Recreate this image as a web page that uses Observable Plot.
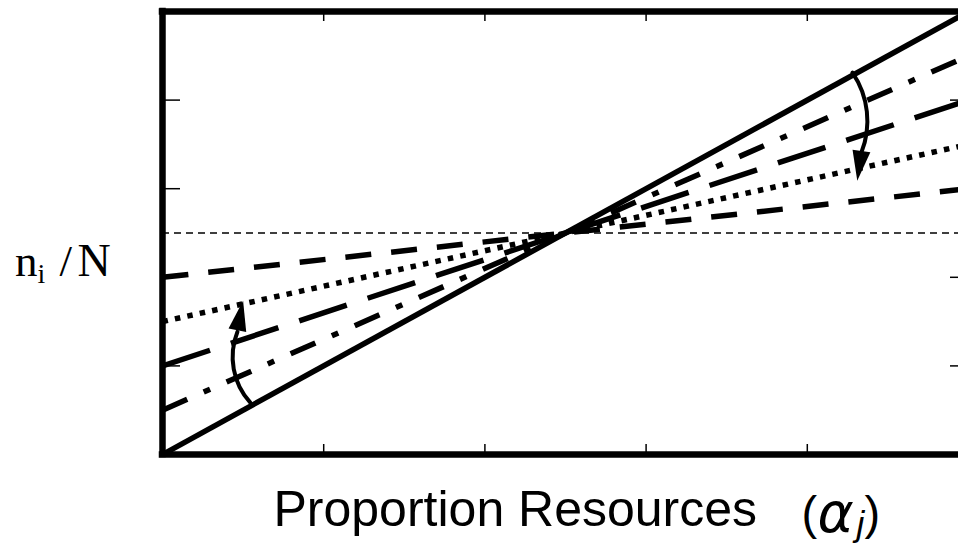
<!DOCTYPE html>
<html>
<head>
<meta charset="utf-8">
<script src="https://cdn.jsdelivr.net/npm/d3@7"></script>
<script src="https://cdn.jsdelivr.net/npm/@observablehq/plot@0.6"></script>
<style>
  html, body { margin: 0; padding: 0; background: #fff; overflow: hidden; }
  svg { overflow: hidden; }
</style>
</head>
<body>
<div id="chart"></div>
<script>
// ---- data ----
const alphaEnds = [0, 1];
const seriesNames = ["solid", "dash-dot", "long dash", "dotted", "dashed"];
const valuesAtZero = [0.0, 0.1, 0.2, 0.3, 0.4];
const valuesAtOne  = [1.0, 0.9, 0.8, 0.7, 0.6];
const xTicks = [0.2, 0.4, 0.6, 0.8];
const yTicks = [0.2, 0.4, 0.6, 0.8];
const evenLevel = [0.5];
const arrowNames  = ["upward", "downward"];
const arrowStartX = [0.109, 0.856];
const arrowStartY = [0.117, 0.862];
const arrowBaseX  = [0.093, 0.867];
const arrowBaseY  = [0.277, 0.681];
const arrowTipX   = [0.100, 0.862];
const arrowTipY   = [0.347, 0.618];
const xLabel = "Proportion Resources";
const yLabelParts = ["n", "i", "/", "N"];

// ---- styles ----
const W = 958, H = 546;
const mL = 162, mR = 0, mT = 11, mB = 92;
const frameW = W - mL - mR, frameH = H - mT - mB;
const unitW = 806;                  // pixels for one unit of x
const xMax = frameW / unitW;
const xTickLen = 10 / frameH;       // tick lengths expressed in data units
const yTickLen = 18 / unitW;

const lineStyles = {
  "solid":     {strokeDasharray: null},
  "dash-dot":  {strokeDasharray: "27,18,7,18"},
  "long dash": {strokeDasharray: "50,22"},
  "dotted":    {strokeDasharray: "5.5,7.2"},
  "dashed":    {strokeDasharray: "26,20"}
};
const arrowStyle = {
  "upward":   {bend: 32, rotate: 11},
  "downward": {bend: 28, rotate: 188}
};

const lineData = seriesNames.flatMap((name, i) =>
  alphaEnds.map((a, j) => ({series: name, alpha: a, share: j === 0 ? valuesAtZero[i] : valuesAtOne[i]}))
);
const arrows = arrowNames.map((name, i) => ({
  name, x1: arrowStartX[i], y1: arrowStartY[i], x2: arrowBaseX[i], y2: arrowBaseY[i],
  tx: arrowTipX[i], ty: arrowTipY[i]
}));

const headSymbol = {
  draw(context) {
    context.moveTo(0, 0);
    context.lineTo(9, 30);
    context.lineTo(-9, 30);
    context.closePath();
  }
};

const serif = "'Liberation Serif', 'Times New Roman', serif";
const sans = "'Liberation Sans', Arial, Helvetica, sans-serif";

const marks = [];
// reference level
marks.push(Plot.ruleY(evenLevel, {stroke: "black", strokeWidth: 1.3, strokeDasharray: "7,5"}));
// series lines
for (const name of seriesNames) {
  marks.push(Plot.line(lineData.filter(d => d.series === name), {
    x: "alpha", y: "share", stroke: "black", strokeWidth: 5.5,
    strokeLinecap: "butt", strokeLinejoin: "miter",
    strokeDasharray: lineStyles[name].strokeDasharray, clip: true
  }));
}
// curved arrows
for (const a of arrows) {
  marks.push(Plot.arrow([a], {
    x1: "x1", y1: "y1", x2: "x2", y2: "y2",
    bend: arrowStyle[a.name].bend, headLength: 0,
    stroke: "black", strokeWidth: 4
  }));
  marks.push(Plot.dot([a], {
    x: "tx", y: "ty", symbol: headSymbol, rotate: arrowStyle[a.name].rotate,
    fill: "black", stroke: "none"
  }));
}
// ticks (inward)
marks.push(Plot.ruleX(xTicks, {y1: 0, y2: xTickLen, stroke: "black", strokeWidth: 1.5}));
marks.push(Plot.ruleX(xTicks, {y1: 1 - xTickLen, y2: 1, stroke: "black", strokeWidth: 1.5}));
marks.push(Plot.ruleY(yTicks, {x1: 0, x2: yTickLen, stroke: "black", strokeWidth: 1.5}));
marks.push(Plot.ruleY(yTicks, {x1: 1 - yTickLen, x2: 1, stroke: "black", strokeWidth: 1.5}));
// frame
marks.push(Plot.ruleY([0, 1], {x1: 0, x2: 1, stroke: "black", strokeWidth: 6.5, strokeLinecap: "square"}));
marks.push(Plot.ruleX([0, 1], {y1: 0, y2: 1, stroke: "black", strokeWidth: 6.5, strokeLinecap: "square"}));

// axis labels
const txt = (s, o) => Plot.text([s], {text: d => d, fill: "black", textAnchor: "start", lineAnchor: "bottom", ...o});
marks.push(txt(xLabel, {frameAnchor: "bottom-left", dx: 111, dy: 71, fontSize: 50, fontFamily: sans}));
marks.push(txt("(", {frameAnchor: "bottom-left", dx: 639, dy: 74, fontSize: 47, fontFamily: sans}));
marks.push(txt("α", {frameAnchor: "bottom-left", dx: 655, dy: 77, fontSize: 55, fontFamily: "'DejaVu Sans', sans-serif", fontStyle: "italic"}));
marks.push(txt("j", {frameAnchor: "bottom-left", dx: 694, dy: 81, fontSize: 35, fontFamily: sans, fontStyle: "italic"}));
marks.push(txt(")", {frameAnchor: "bottom-left", dx: 702, dy: 74, fontSize: 47, fontFamily: sans}));

marks.push(txt(yLabelParts[0], {frameAnchor: "left", dx: -147.5, dy: 42.5, fontSize: 45, fontFamily: serif}));
marks.push(txt(yLabelParts[1], {frameAnchor: "left", dx: -125, dy: 49.5, fontSize: 28, fontFamily: serif}));
marks.push(txt(yLabelParts[2], {frameAnchor: "left", dx: -103, dy: 42.5, fontSize: 45, fontFamily: serif}));
marks.push(txt(yLabelParts[3], {frameAnchor: "left", dx: -85, dy: 42.5, fontSize: 46, fontFamily: serif}));

const chart = Plot.plot({
  width: W, height: H,
  marginLeft: mL, marginRight: mR, marginTop: mT, marginBottom: mB,
  x: {domain: [0, xMax], axis: null},
  y: {domain: [0, 1], axis: null},
  style: {background: "white", color: "black"},
  marks
});
document.getElementById("chart").appendChild(chart);
</script>
</body>
</html>
